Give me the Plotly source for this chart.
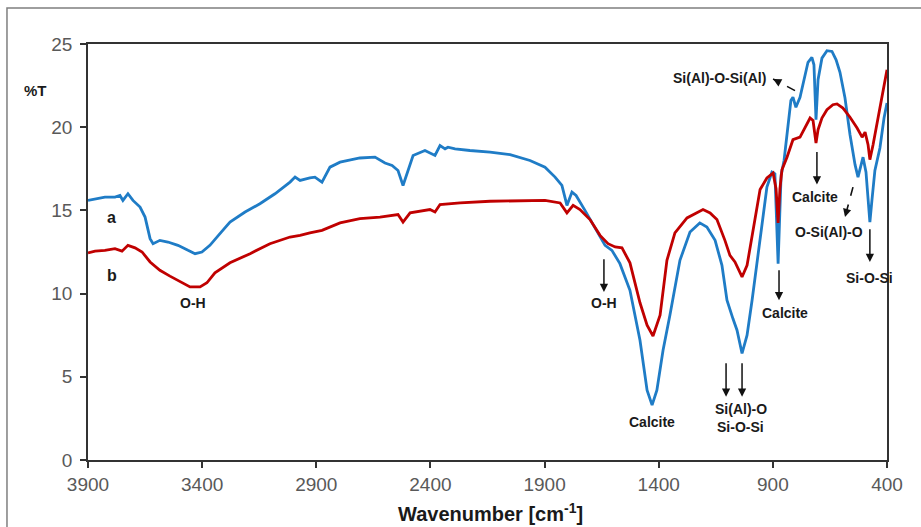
import plotly.graph_objects as go

# ---- Data ----
wn_a = [3900, 3869, 3826, 3782, 3760, 3747, 3725, 3703, 3672, 3650, 3628, 3615, 3585, 3550, 3506,
        3462, 3431, 3401, 3366, 3322, 3278, 3212, 3147, 3081, 3015, 2993, 2971, 2928, 2906, 2875,
        2840, 2796, 2709, 2643, 2621, 2599, 2568, 2542, 2520, 2498, 2476, 2424, 2380, 2358, 2336,
        2323, 2292, 2227, 2139, 2051, 1964, 1898, 1854, 1824, 1802, 1780, 1762, 1723, 1679, 1635,
        1605, 1570, 1526, 1482, 1451, 1429, 1408, 1381, 1351, 1307, 1263, 1220, 1189, 1153, 1123,
        1101, 1075, 1057, 1035, 1013, 991, 969, 948, 926, 904, 891, 877, 864, 851, 834, 821, 812,
        799, 781, 764, 746, 729, 720, 711, 702, 685, 663, 641, 623, 606, 584, 562, 540, 527, 514,
        505, 492, 483, 475, 466, 453, 431, 413, 400]
T_a = [15.6, 15.7, 15.8, 15.8, 15.9, 15.6, 16.0, 15.6, 15.2, 14.6, 13.3, 13.0, 13.2, 13.1, 12.9,
       12.6, 12.4, 12.5, 12.9, 13.6, 14.3, 14.9, 15.4, 16.0, 16.7, 17.0, 16.8, 16.95, 17.0, 16.7,
       17.6, 17.9, 18.15, 18.2, 18.0, 17.85, 17.7, 17.4, 16.5, 17.4, 18.3, 18.6, 18.3, 18.9, 18.7,
       18.8, 18.7, 18.6, 18.5, 18.35, 18.0, 17.6, 17.0, 16.5, 15.3, 16.1, 15.9, 15.0, 13.95, 12.9,
       12.6, 11.8, 10.2, 7.2, 4.2, 3.3, 4.2, 6.6, 8.7, 12.0, 13.7, 14.25, 14.0, 13.2, 11.7,
       9.6, 8.5, 7.8, 6.4, 7.5, 9.6, 12.0, 14.1, 16.4, 17.3, 17.2, 11.8, 17.1, 18.0, 20.0, 21.6, 21.8,
       21.2, 21.8, 22.85, 23.9, 24.2, 23.75, 20.45, 22.85, 24.15, 24.6, 24.55, 24.05, 23.3, 21.75, 19.55, 17.75, 17.0, 17.75,
       18.2, 17.3, 15.6, 14.3, 15.6, 17.4, 18.75, 20.55, 21.45]

wn_b = [3900, 3869, 3826, 3782, 3751, 3725, 3694, 3663, 3628, 3585, 3541, 3497, 3453, 3409, 3379,
        3344, 3278, 3190, 3103, 3015, 2971, 2928, 2875, 2796, 2709, 2621, 2542, 2520, 2489, 2402,
        2380, 2358, 2270, 2139, 2008, 1898, 1832, 1802, 1775, 1745, 1701, 1657, 1622, 1591, 1561,
        1526, 1482, 1451, 1425, 1394, 1364, 1329, 1276, 1206, 1175, 1145, 1110, 1088, 1066, 1035,
        1013, 987, 956, 926, 899, 886, 877, 869, 860, 838, 812, 781, 759, 737, 724, 711, 702, 685,
        663, 637, 619, 593, 562, 531, 509, 496, 483, 475, 461, 444, 431, 413, 400]
T_b = [12.45, 12.55, 12.6, 12.7, 12.55, 12.9, 12.75, 12.5, 11.9, 11.4, 11.05, 10.7, 10.4, 10.4, 10.65,
       11.25, 11.85, 12.4, 13.0, 13.4, 13.5, 13.65, 13.8, 14.25, 14.5, 14.6, 14.75, 14.3, 14.85, 15.05,
       14.9, 15.35, 15.45, 15.55, 15.6, 15.6, 15.45, 14.85, 15.3, 15.05, 14.45, 13.5, 13.0, 12.8, 12.75,
       11.85, 9.45, 8.1, 7.45, 8.7, 12.0, 13.65, 14.55, 15.05, 14.85, 14.45, 13.2, 12.3, 11.9, 11.0,
       11.7, 13.8, 16.25, 16.95, 17.25, 16.3, 14.25, 16.3, 17.45, 18.2, 19.25, 19.4, 20.0, 20.55, 20.4, 19.05, 19.85, 20.55,
       21.05, 21.35, 21.4, 21.15, 20.6, 19.95, 19.4, 19.7, 18.95, 18.05, 18.95, 20.15, 21.2, 22.55, 23.45]

x_ticks = [3900, 3400, 2900, 2400, 1900, 1400, 900, 400]
y_ticks = [0, 5, 10, 15, 20, 25]

BLUE = "#1f7cc6"
RED = "#c00000"

fig = go.Figure()
fig.add_trace(go.Scatter(x=wn_a, y=T_a, mode="lines", line=dict(color=BLUE, width=2.8), name="a"))
fig.add_trace(go.Scatter(x=wn_b, y=T_b, mode="lines", line=dict(color=RED, width=2.8), name="b"))

FONT = "Liberation Sans, Arial, sans-serif"
LBL = dict(family=FONT, size=14, color="#1a1a1a")

def label(x, y, text, size=14):
    fig.add_annotation(x=x, y=y, text="<b>" + text + "</b>", showarrow=False,
                       font=dict(LBL, size=size), xref="x", yref="y")

def arrow(x0, y0, x1, y1):
    fig.add_annotation(x=x1, y=y1, ax=x0, ay=y0, axref="x", ayref="y", xref="x", yref="y",
                       text="", showarrow=True, arrowhead=2, arrowsize=1.1, arrowwidth=1.5,
                       arrowcolor="#111111")

def dashed_arrow(x0, y0, x1, y1):
    fig.add_shape(type="line", x0=x0, y0=y0, x1=x1, y1=y1, xref="x", yref="y",
                  line=dict(color="#111111", width=1.6, dash="dash"))
    fx = x1 + (x0 - x1) * 0.3
    fy = y1 + (y0 - y1) * 0.3
    arrow(fx, fy, x1, y1)

label(3795, 14.55, "a", 16)
label(3795, 11.1, "b", 16)
label(3440, 9.45, "O-H")
label(1640, 9.45, "O-H")
arrow(1640, 12.15, 1640, 10.1)
label(1430, 2.3, "Calcite")
label(1040, 3.05, "Si(Al)-O")
label(1040, 2.0, "Si-O-Si")
arrow(1105, 5.9, 1105, 3.8)
arrow(1035, 5.9, 1035, 3.8)
label(847, 8.85, "Calcite")
arrow(873, 11.5, 873, 9.6)
label(715, 15.8, "Calcite")
arrow(707, 18.6, 707, 16.55)
label(654, 13.7, "O-Si(Al)-O")
dashed_arrow(549, 16.4, 584, 14.6)
label(475, 10.95, "Si-O-Si")
arrow(475, 13.95, 475, 11.9)
label(1132, 22.95, "Si(Al)-O-Si(Al)")
dashed_arrow(803, 22.2, 899, 22.9)

# %T label, x-axis title, outer frame
fig.add_annotation(x=-0.0826, y=0.914, xref="paper", yref="paper", xanchor="left",
                   text="<b>%T</b>", showarrow=False, font=dict(LBL, size=15))
fig.add_annotation(x=0.504, y=-0.127, xref="paper", yref="paper", yanchor="middle",
                   text="<b>Wavenumber [cm<sup>-1</sup>]</b>", showarrow=False,
                   font=dict(family=FONT, size=20, color="#1a1a1a"))
fig.add_shape(type="rect", xref="paper", yref="paper", x0=-0.1014, y0=-0.3, x1=1.2, y1=1.0865,
              line=dict(color="#7f7f7f", width=1.5), fillcolor="rgba(0,0,0,0)", layer="below")

TICKF = dict(family=FONT, size=19, color="#595959")
fig.update_xaxes(range=[3900, 400], tickvals=x_ticks, ticktext=[str(v) for v in x_ticks],
                 ticks="outside", ticklen=6, tickwidth=1.5, tickcolor="#333333",
                 showline=True, linecolor="#333333", linewidth=1.5, mirror=True,
                 showgrid=False, zeroline=False, tickfont=TICKF, automargin=False)
fig.update_yaxes(range=[0, 25], tickvals=y_ticks, ticks="outside", ticklen=6, tickwidth=1.5,
                 tickcolor="#333333", showline=True, linecolor="#333333", linewidth=1.5,
                 mirror=True, showgrid=False, zeroline=False, tickfont=TICKF, ticklabelstandoff=4,
                 automargin=False)

fig.update_layout(width=921, height=527, margin=dict(l=88, r=34, t=44, b=67),
                  paper_bgcolor="white", plot_bgcolor="white", showlegend=False)

fig.write_html("out.html")
